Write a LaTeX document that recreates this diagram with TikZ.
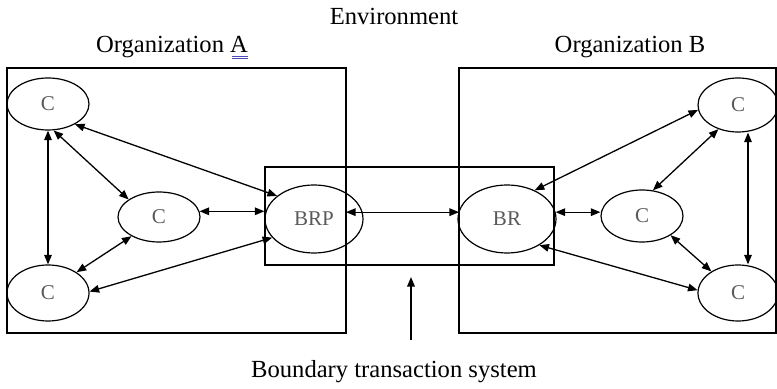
\documentclass[tikz,border=0pt]{standalone}
\usepackage{fontspec}
\setmainfont{Liberation Serif}
\usetikzlibrary{shapes.geometric,arrows.meta,calc}
\begin{document}
\begin{tikzpicture}[x=0.5pt,y=-0.5pt,
  box/.style={line width=0.7pt},
  ent/.style={draw, ellipse, inner sep=0pt, line width=0.6pt, text=black!65, font=\fontsize{10.5}{12}\selectfont},
  bnode/.style={ent, minimum width=49pt, minimum height=34pt},
  lbl/.style={font=\fontsize{12.3}{14}\selectfont, anchor=base, inner sep=0pt},
  link/.style={line width=0.65pt, {Triangle[length=4.8pt,width=3.8pt]}-{Triangle[length=4.8pt,width=3.8pt]}},
  onelink/.style={line width=0.75pt, -{Triangle[length=4.8pt,width=3.8pt]}},
]
\useasboundingbox (0,0) rectangle (777,389);

% boxes
\draw[box] (7,68) rectangle (346,333);
\draw[box] (459,68) rectangle (776,333);
\draw[box] (265,167) rectangle (554,265);
\coordinate (orgAr) at (346,0);
\coordinate (orgBl) at (459,0);

% labels
\node[lbl] (env) at (394,25) {Environment};
\node[lbl] (orgA) at (172,53) {Organization A};
\node[lbl] (orgB) at (630,53) {Organization B};
\node[lbl] (bts) at (394,378) {Boundary transaction system};
\draw[blue!60!black!70, line width=0.35pt] (232,56) -- (248,56) (232,58.5) -- (248,58.5);

% entities
\node[ent, minimum width=41pt, minimum height=26pt] (tl) at (48,104) {C};
\node[ent, minimum width=41pt, minimum height=25pt] (ml) at (159,217) {C};
\node[ent, minimum width=41pt, minimum height=28pt] (bl) at (48,293) {C};
\node[bnode] (brp) at (314,219) {BRP};
\node[bnode] (br) at (507,219) {BR};
\node[ent, minimum width=41pt, minimum height=26pt] (mr) at (642,216) {C};
\node[ent, minimum width=40pt, minimum height=27pt] (tr) at (738,105) {C};
\node[ent, minimum width=40pt, minimum height=28pt] (brc) at (738,293) {C};

% connectors, organization A
\draw[link] (tl.south) -- (bl.north);
\draw[link] (tl.-78) -- (ml.150);
\draw[link] (tl.-37) -- (brp.148);
\draw[link] (ml.8) -- (ml.8 -| brp.west);
\draw[link] (ml.215) -- (bl.36);
\draw[link] (brp.204) -- (bl.2);

% between organizations
\draw[link] (orgAr |- brp.8) -- (orgBl |- brp.8);

% connectors, organization B
\draw[link] (br.46) -- (tr.187);
\draw[link] (br.8) -- (br.8 -| mr.west);
\draw[link] (mr.67) -- (tr.231);
\draw[link] (mr.-34) -- (brc.141);
\draw[link] (br.-39) -- (brc.176);
\draw[link] ([xshift=5pt]tr.south) -- ([xshift=5pt]brc.north);

% pointer to boundary transaction system
\coordinate (pbot) at (411,340);
\coordinate (ptop) at (411,277);
\draw[onelink] (pbot) -- (ptop);
\end{tikzpicture}
\end{document}
